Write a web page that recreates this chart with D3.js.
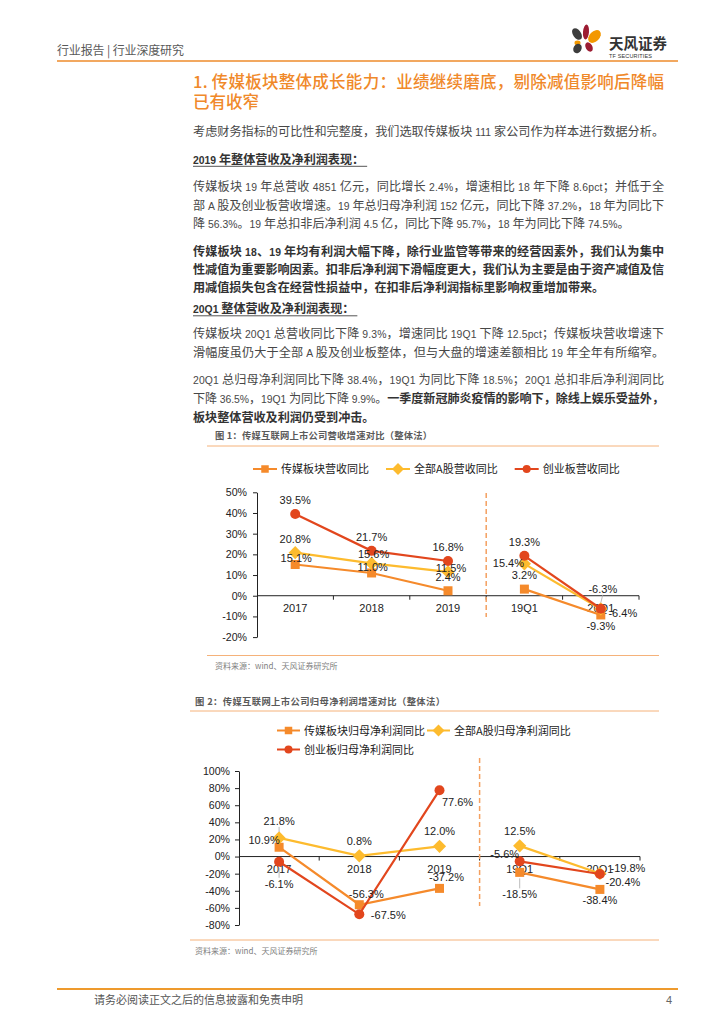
<!DOCTYPE html>
<html>
<head>
<meta charset="utf-8">
<script src="https://cdn.jsdelivr.net/npm/d3@7"></script>
<style>
  body { margin: 0; background: #fff; }
  svg { display: block; }
  text { white-space: pre; }
</style>
</head>
<body>
<svg id="page"></svg>
<script>
// ---------- DATA ----------
const categories = ['2017', '2018', '2019', '19Q1', '20Q1']
const periodGroups = [[0, 1, 2], [3, 4]]   // annual points vs quarterly points (not joined)

// fig 1: revenue growth (%)
const revNames = ['传媒板块营收同比', '全部A股营收同比', '创业板营收同比']
const revMedia = [15.1, 11.0, 2.4, 3.2, -9.3]
const revAShare = [20.8, 15.6, 11.5, 15.4, -6.4]
const revGem = [39.5, 21.7, 16.8, 19.3, -6.3]
const revTicks = [-20, -10, 0, 10, 20, 30, 40, 50]

// fig 2: net profit growth (%)
const npNames = ['传媒板块归母净利润同比', '全部A股归母净利润同比', '创业板归母净利润同比']
const npMedia = [10.9, -56.3, -37.2, -18.5, -38.4]
const npAShare = [21.8, 0.8, 12.0, 12.5, -19.8]
const npGem = [-6.1, -67.5, 77.6, -5.6, -20.4]
const npTicks = [-80, -60, -40, -20, 0, 20, 40, 60, 80, 100]

// label placement codes per point
const revPlace = [['t', 't', 'T', 'T', 'B'], ['T', 'm', 'n', 'L', 'R'], ['T', 'T', 'T', 'T', 'U']]
const npPlace = [['UL', 'UR', 'UR', 'BB', 'B'], ['TT', 'T', 'T', 'T', 'R'], ['BB', 'R0', 'BR', 'UL', 'BR2']]

// ---------- STYLE ----------
const colors = ['#F58A2B', '#FDBB2E', '#E2461D']
const shapes = ['square', 'diamond', 'circle']
const ORANGE = '#EE8B2B'
const CJK = "'Noto Sans CJK SC'"
const LAT = "'Liberation Sans'"

const svg = d3.select('#page').attr('width', 724).attr('height', 1024)

// ---------- HEADER ----------
svg.append('text').attr('x', 57).attr('y', 54.5)
  .attr('font-family', CJK).attr('font-size', 12).attr('fill', '#595959')
  .attr('textLength', 127).attr('lengthAdjust', 'spacing')
  .text('行业报告 | 行业深度研究')
svg.append('line').attr('x1', 57).attr('x2', 678).attr('y1', 61).attr('y2', 61)
  .attr('stroke', ORANGE).attr('stroke-width', 1.5)

// logo petals
const petals = [
  { cx: 577, cy: 34, rx: 4, ry: 6.5, r: -35, c: '#3d3d3d' },
  { cx: 586, cy: 32, rx: 3, ry: 7.5, r: 5, c: '#9c1c32' },
  { cx: 594.5, cy: 36.5, rx: 5, ry: 7.5, r: 45, c: '#F39800' },
  { cx: 577.5, cy: 43, rx: 3, ry: 2.4, r: 0, c: '#F39800' },
  { cx: 577.5, cy: 48.5, rx: 4, ry: 5, r: 30, c: '#3d3d3d' },
  { cx: 589, cy: 47, rx: 3.3, ry: 5, r: -30, c: '#9c1c32' }
]
svg.append('g').selectAll('ellipse').data(petals).enter().append('ellipse')
  .attr('cx', d => d.cx).attr('cy', d => d.cy).attr('rx', d => d.rx).attr('ry', d => d.ry)
  .attr('transform', d => `rotate(${d.r}, ${d.cx}, ${d.cy})`)
  .attr('fill', d => d.c)
svg.append('text').attr('x', 609).attr('y', 48.5)
  .attr('font-family', CJK).attr('font-weight', 'bold').attr('font-size', 14.5).attr('fill', '#333')
  .attr('textLength', 58).attr('lengthAdjust', 'spacing').text('天风证券')
svg.append('text').attr('x', 609).attr('y', 57.5)
  .attr('font-family', LAT).attr('font-size', 5.5).attr('fill', '#333')
  .attr('textLength', 43).attr('lengthAdjust', 'spacing').text('TF SECURITIES')

// ---------- TITLE ----------
svg.append('text').attr('x', 193).attr('y', 88)
  .attr('font-family', CJK).attr('font-size', 16.5).attr('font-weight', 500).attr('fill', '#F0892A')
  .attr('textLength', 471).attr('lengthAdjust', 'spacing')
  .text('1. 传媒板块整体成长能力：业绩继续磨底，剔除减值影响后降幅')
svg.append('text').attr('x', 193).attr('y', 108)
  .attr('font-family', CJK).attr('font-size', 16.5).attr('font-weight', 500).attr('fill', '#F0892A')
  .text('已有收窄')

// ---------- BODY ----------
// each line: [y centre, segments [text, bold], justify, heading]
const bodyLines = [
  [131.5, [['考虑财务指标的可比性和完整度，我们选取传媒板块 111 家公司作为样本进行数据分析。', 0]], 1],
  [159.5, [['2019 年整体营收及净利润表现：', 1]], 0, 1],
  [187, [['传媒板块 19 年总营收 4851 亿元，同比增长 2.4%，增速相比 18 年下降 8.6pct；并低于全', 0]], 1],
  [205.5, [['部 A 股及创业板营收增速。19 年总归母净利润 152 亿元，同比下降 37.2%，18 年为同比下', 0]], 1],
  [224, [['降 56.3%。19 年总扣非后净利润 4.5 亿，同比下降 95.7%，18 年为同比下降 74.5%。', 0]], 0],
  [251.5, [['传媒板块 18、19 年均有利润大幅下降，除行业监管等带来的经营因素外，我们认为集中', 1]], 1],
  [269.5, [['性减值为重要影响因素。扣非后净利润下滑幅度更大，我们认为主要是由于资产减值及信', 1]], 1],
  [287.5, [['用减值损失包含在经营性损益中，在扣非后净利润指标里影响权重增加带来。', 1]], 0],
  [309, [['20Q1 整体营收及净利润表现：', 1]], 0, 1],
  [334, [['传媒板块 20Q1 总营收同比下降 9.3%，增速同比 19Q1 下降 12.5pct；传媒板块营收增速下', 0]], 1],
  [352.5, [['滑幅度虽仍大于全部 A 股及创业板整体，但与大盘的增速差额相比 19 年全年有所缩窄。', 0]], 1],
  [380, [['20Q1 总归母净利润同比下降 38.4%，19Q1 为同比下降 18.5%；20Q1 总扣非后净利润同比', 0]], 1],
  [399, [['下降 36.5%，19Q1 为同比下降 9.9%。', 0], ['一季度新冠肺炎疫情的影响下，除线上娱乐受益外，', 1]], 1],
  [417.5, [['板块整体营收及利润仍受到冲击。', 1]], 0]
]

const body = svg.append('g')
bodyLines.forEach(([yc, segs, justify, heading]) => {
  const t = body.append('text').attr('x', 193).attr('y', yc + 4.3)
  segs.forEach(([s, bold]) => {
    s.split(/([\x20-\x7e]+)/).filter(p => p).forEach(p => {
      const latin = /^[\x20-\x7e]+$/.test(p)
      t.append('tspan').text(p)
        .attr('font-family', latin ? LAT : CJK)
        .attr('font-size', latin ? 10.4 : 12.1)
        .attr('font-weight', bold ? 'bold' : 'normal')
        .attr('fill', bold ? '#333' : '#474747')
    })
  })
  if (justify) t.attr('textLength', 471).attr('lengthAdjust', 'spacing')
  if (heading) {
    const w = t.node().getComputedTextLength()
    body.append('line').attr('x1', 193).attr('x2', 193 + w + 3)
      .attr('y1', yc + 6.8).attr('y2', yc + 6.8).attr('stroke', '#555').attr('stroke-width', 1)
  }
})

// ---------- CHARTS ----------
function marker(g, shape, x, y, s, color) {
  if (shape === 'square') {
    g.append('rect').attr('x', x - s / 2).attr('y', y - s / 2).attr('width', s).attr('height', s).attr('fill', color)
  } else if (shape === 'diamond') {
    const h = s * 0.6
    g.append('path').attr('d', `M${x},${y - h}L${x + h},${y}L${x},${y + h}L${x - h},${y}Z`).attr('fill', color)
  } else {
    g.append('circle').attr('cx', x).attr('cy', y).attr('r', s / 2).attr('fill', color)
  }
}

function drawChart(cfg) {
  const g = svg.append('g')

  // caption
  g.append('text').attr('x', cfg.capX).attr('y', cfg.capY + 3.3)
    .attr('font-family', CJK).attr('font-size', 9.3).attr('font-weight', 'bold').attr('fill', '#5a5a5a')
    .attr('textLength', cfg.capW).attr('lengthAdjust', 'spacing').text(cfg.caption)
  g.append('line').attr('x1', cfg.lineX[0]).attr('x2', cfg.lineX[1])
    .attr('y1', cfg.capLineY).attr('y2', cfg.capLineY).attr('stroke', '#F5B27A').attr('stroke-width', 1)

  // legend
  let lx = cfg.legendX, ly = cfg.legendY[0], row = 0
  cfg.names.forEach((name, j) => {
    if (j > 0 && j % cfg.legendPerRow === 0) { row++; lx = cfg.legendX; ly = cfg.legendY[row] }
    g.append('line').attr('x1', lx).attr('x2', lx + cfg.legendLine).attr('y1', ly).attr('y2', ly)
      .attr('stroke', colors[j]).attr('stroke-width', 2)
    marker(g, shapes[j], lx + cfg.legendLine / 2, ly, shapes[j] === 'circle' ? 8 : (shapes[j] === 'diamond' ? 10 : 7.5), colors[j])
    const t = g.append('text').attr('x', lx + cfg.legendLine + 4).attr('y', ly + 4)
      .attr('font-family', CJK).attr('font-size', 11).attr('fill', '#222').text(name)
    lx += cfg.legendLine + 4 + t.node().getComputedTextLength() + cfg.legendGap
  })

  // scales
  const x = d3.scaleBand().domain(categories).range(cfg.xRange).padding(0)
  const cx = i => x(categories[i]) + x.bandwidth() / 2
  const y = d3.scaleLinear().domain(cfg.yDomain).range(cfg.yRange)

  // y axis
  const yAxis = g.append('g').attr('transform', `translate(${cfg.xRange[0]},0)`)
    .call(d3.axisLeft(y).tickValues(cfg.ticks).tickFormat(d => d + '%').tickSize(4).tickPadding(cfg.tickPad).tickSizeOuter(0))
  yAxis.selectAll('text').attr('font-family', LAT).attr('font-size', 10.6).attr('fill', '#222')
  yAxis.selectAll('line, path').attr('stroke', '#222')

  // zero line + boundary ticks
  g.append('line').attr('x1', cfg.xRange[0]).attr('x2', cfg.xRange[1]).attr('y1', y(0)).attr('y2', y(0))
    .attr('stroke', '#222').attr('stroke-width', 1)
  const bounds = categories.slice(1).map(c => x(c)).concat([cfg.xRange[1]])
  g.selectAll('.btick').data(bounds).enter().append('line')
    .attr('x1', d => d).attr('x2', d => d).attr('y1', y(0)).attr('y2', y(0) + 4)
    .attr('stroke', '#222')

  // x labels
  const xAxis = g.append('g').attr('transform', `translate(0,${cfg.xLabelY - 4})`)
    .call(d3.axisBottom(x).tickSize(0).tickPadding(0))
  xAxis.select('.domain').remove()
  xAxis.selectAll('text').attr('font-family', LAT).attr('font-size', 11).attr('fill', '#222').attr('dy', '0.35em').attr('y', 4)

  // dashed divider between annual and quarterly
  g.append('line').attr('x1', x('19Q1')).attr('x2', x('19Q1')).attr('y1', cfg.dash[0]).attr('y2', cfg.dash[1])
    .attr('stroke', '#F4A060').attr('stroke-width', 1.5).attr('stroke-dasharray', '5,3')

  // series
  const line = vals => d3.line().x(i => cx(i)).y(i => y(vals[i]))
  cfg.series.forEach((vals, j) => {
    periodGroups.forEach(grp => {
      g.append('path').datum(grp).attr('d', line(vals)).attr('fill', 'none')
        .attr('stroke', colors[j]).attr('stroke-width', 2.2)
    })
    vals.forEach((v, i) => marker(g, shapes[j], cx(i), y(v), shapes[j] === 'circle' ? 10 : (shapes[j] === 'diamond' ? 11 : 9), colors[j]))
  })

  // labels
  cfg.series.forEach((vals, j) => {
    vals.forEach((v, i) => {
      const off = cfg.offsets[cfg.place[j][i]]
      const px = cx(i), py = y(v)
      if (cfg.leaders.includes(cfg.place[j][i])) {
        const s = Math.sign(off[1])
        g.append('line').attr('x1', px).attr('y1', py + s * 6)
          .attr('x2', px + off[0]).attr('y2', py + off[1] - s * 6)
          .attr('stroke', '#aaa').attr('stroke-width', 0.8)
      }
      g.append('text').attr('x', px + off[0]).attr('y', py + off[1]).attr('dy', '0.35em')
        .attr('text-anchor', 'middle').attr('font-family', LAT).attr('font-size', 11).attr('fill', '#222')
        .text(v.toFixed(1) + '%')
    })
  })

  // source
  g.append('line').attr('x1', cfg.lineX[0]).attr('x2', cfg.lineX[1])
    .attr('y1', cfg.srcLineY).attr('y2', cfg.srcLineY).attr('stroke', '#F5B27A').attr('stroke-width', 1)
  g.append('text').attr('x', cfg.capX).attr('y', cfg.srcY + 3)
    .attr('font-family', CJK).attr('font-size', 8).attr('fill', '#808080')
    .text('资料来源：wind、天风证券研究所')
}

drawChart({
  caption: '图 1：传媒互联网上市公司营收增速对比（整体法）', capX: 215, capY: 436, capW: 217,
  lineX: [207, 659], capLineY: 446,
  names: revNames, legendX: 253, legendY: [469], legendPerRow: 3, legendLine: 24, legendGap: 17,
  xRange: [257, 639], yDomain: [-20, 50], yRange: [637.1, 492.3], ticks: revTicks, tickPad: 6,
  xLabelY: 608.5, dash: [493, 617],
  series: [revMedia, revAShare, revGem], place: revPlace,
  offsets: { T: [0, -14], t: [1, -6], B: [0, 11], m: [2, -9], n: [3, -4], L: [-16, -1], R: [22, 4], U: [2, -20] },
  leaders: ['U'],
  srcLineY: 655.5, srcY: 666
})

drawChart({
  caption: '图 2：传媒互联网上市公司归母净利润增速对比（整体法）', capX: 195, capY: 701.5, capW: 250,
  lineX: [190, 659], capLineY: 711,
  names: npNames, legendX: 277, legendY: [730.5, 749.5], legendPerRow: 2, legendLine: 23, legendGap: 2,
  xRange: [239, 640], yDomain: [-80, 100], yRange: [925, 771], ticks: npTicks, tickPad: 5,
  xLabelY: 869, dash: [758, 906],
  series: [npMedia, npAShare, npGem], place: npPlace,
  offsets: { UL: [-15, -7], UR: [7, -11], BB: [0, 22], B: [0, 11], TT: [0, -17], T: [0, -15],
             R: [28, -5], R0: [29, 1], BR: [18, 12], BR2: [23, 8] },
  leaders: ['BB', 'TT'],
  srcLineY: 940, srcY: 950.5
})

// ---------- FOOTER ----------
svg.append('line').attr('x1', 57).attr('x2', 678).attr('y1', 989).attr('y2', 989)
  .attr('stroke', '#EE9A2D').attr('stroke-width', 2.2)
svg.append('text').attr('x', 94).attr('y', 1004)
  .attr('font-family', CJK).attr('font-size', 11).attr('fill', '#555')
  .text('请务必阅读正文之后的信息披露和免责申明')
svg.append('text').attr('x', 672).attr('y', 1004).attr('text-anchor', 'end')
  .attr('font-family', LAT).attr('font-size', 11).attr('fill', '#666').text('4')
</script>
</body>
</html>
